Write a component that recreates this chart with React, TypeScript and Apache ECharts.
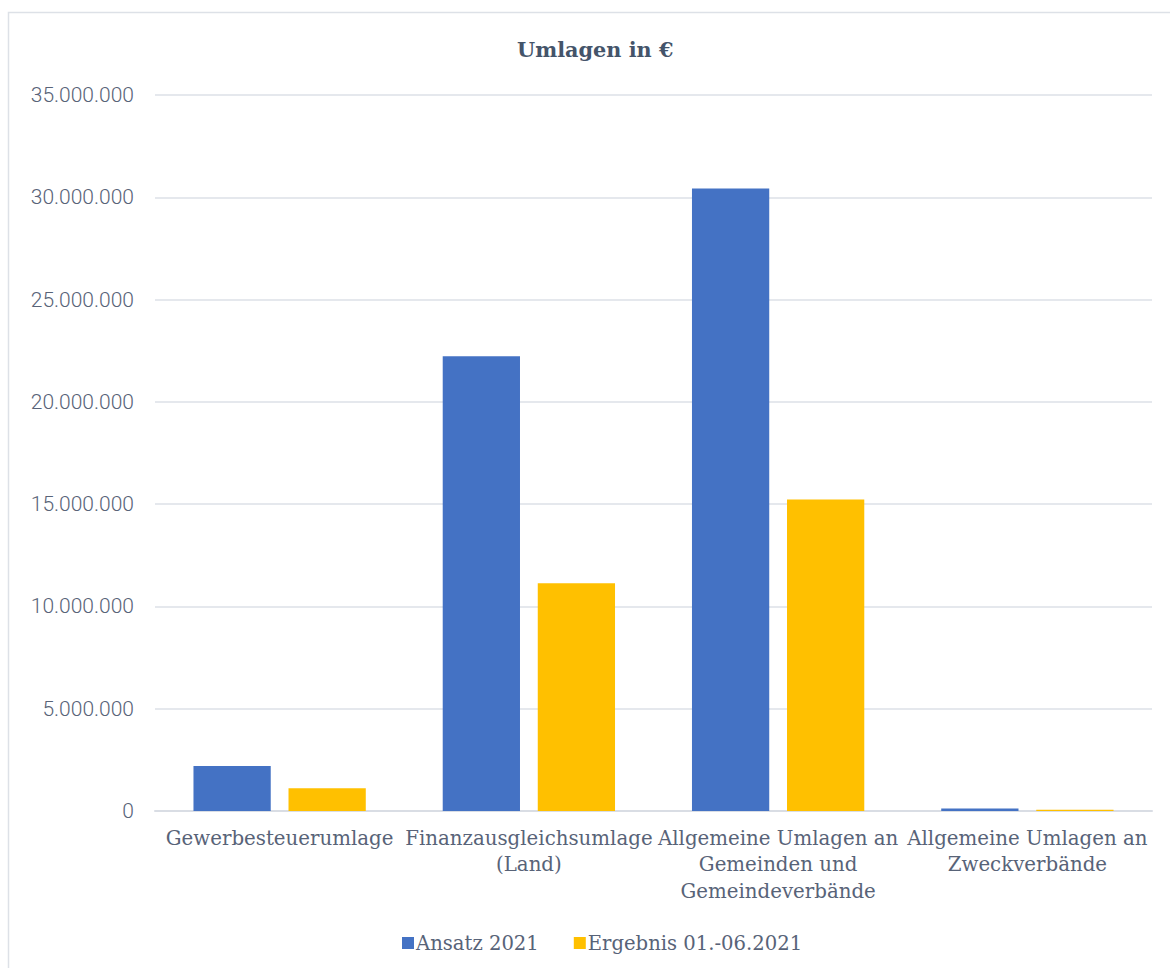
import React, { useEffect, useRef } from "react";
import * as echarts from "echarts";

const chartTitle = "Umlagen in €";
const categories = [
  "Gewerbesteuerumlage",
  "Finanzausgleichsumlage\n(Land)",
  "Allgemeine Umlagen an\nGemeinden und\nGemeindeverbände",
  "Allgemeine Umlagen an\nZweckverbände",
];
const seriesNames = ["Ansatz 2021", "Ergebnis 01.-06.2021"];
const ansatz2021 = [2200000, 22230000, 30430000, 120000];
const ergebnis2021 = [1110000, 11130000, 15230000, 60000];
const yMin = 0;
const yMax = 35000000;
const yInterval = 5000000;

const fmt = (v: number) => String(Math.round(v)).replace(/\B(?=(\d{3})+(?!\d))/g, ".");

export default function App() {
  const ref = useRef<HTMLDivElement>(null);
  useEffect(() => {
    if (!ref.current) return;
    const chart = echarts.init(ref.current, null, { renderer: "svg" });
    const textColor = "#586378";
    chart.setOption({
      animation: false,
      backgroundColor: "#ffffff",
      graphic: [
        {
          type: "rect",
          shape: { x: 8.5, y: 12.5, width: 1200, height: 1000 },
          style: { fill: "none", stroke: "#dde1e7", lineWidth: 1.5 },
          silent: true,
        },
      ],
      title: {
        text: chartTitle,
        left: 512,
        top: 34,
        textStyle: {
          fontFamily: "DejaVu Serif",
          fontWeight: "bold",
          fontSize: 20.8,
          color: "#44546a",
        },
      },
      legend: {
        data: seriesNames,
        left: 397,
        top: 928,
        itemWidth: 12,
        itemHeight: 12,
        itemGap: 35,
        icon: "rect",
        textStyle: {
          fontFamily: "DejaVu Serif",
          fontSize: 19.6,
          color: textColor,
          padding: [0, 0, 0, -3],
        },
      },
      grid: { left: 155, right: 18, top: 95, bottom: 157, containLabel: false },
      xAxis: {
        type: "category",
        data: categories,
        axisTick: { show: false },
        axisLine: { show: true, lineStyle: { color: "#d9dde4", width: 2 } },
        axisLabel: {
          interval: 0,
          margin: 14,
          fontFamily: "DejaVu Serif",
          fontSize: 19.8,
          lineHeight: 26.5,
          color: textColor,
        },
      },
      yAxis: {
        type: "value",
        min: yMin,
        max: yMax,
        interval: yInterval,
        axisLine: { show: false },
        axisTick: { show: false },
        splitLine: { lineStyle: { color: "#dde1e7", width: 1.5 } },
        axisLabel: {
          margin: 21,
          fontFamily: "Roboto",
          fontWeight: 300,
          fontSize: 21,
          color: textColor,
          formatter: (v: number) => fmt(v),
        },
      },
      series: [
        {
          name: seriesNames[0],
          type: "bar",
          data: ansatz2021,
          barWidth: "31%",
          barGap: "23%",
          itemStyle: { color: "#4472c4" },
        },
        {
          name: seriesNames[1],
          type: "bar",
          data: ergebnis2021,
          barWidth: "31%",
          barGap: "23%",
          itemStyle: { color: "#ffc000" },
        },
      ],
    });
    return () => chart.dispose();
  }, []);
  return (
    <div
      ref={ref}
      style={{ position: "absolute", left: 0, top: 0, width: 1170, height: 968 }}
    />
  );
}
